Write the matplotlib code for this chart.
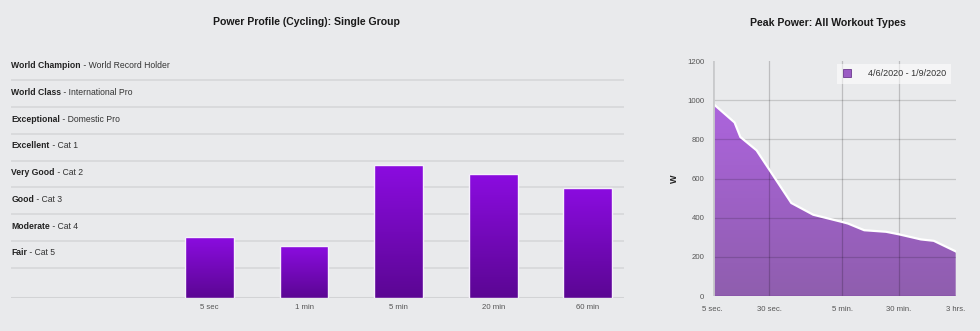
import numpy as np
import matplotlib
matplotlib.use('Agg')
import matplotlib.pyplot as plt
import matplotlib.patches as patches
from matplotlib.colors import LinearSegmentedColormap

plt.rcParams['font.family'] = ['Liberation Sans', 'DejaVu Sans']

# power profile bars (level score, 1 band = 1 unit)
durations = ['5 sec', '1 min', '5 min', '20 min', '60 min']
scores = [2.27, 1.93, 4.94, 4.60, 4.09]

levels = ['Fair', 'Moderate', 'Good', 'Very Good', 'Excellent',
          'Exceptional', 'World Class', 'World Champion']
level_desc = ['Cat 5', 'Cat 4', 'Cat 3', 'Cat 2', 'Cat 1',
              'Domestic Pro', 'International Pro', 'World Record Holder']
band_floor = 1.12  # bottom of the "Fair" band

# peak power curve
peak_secs = [5, 10, 12, 20, 60, 120, 300, 360, 600, 1200, 1800, 3600, 5400, 10800]
peak_watts = [984, 886, 812, 744, 475, 415, 378, 370, 336, 328, 315, 289, 282, 228]
peak_ticks = [5, 30, 300, 1800, 10800]
peak_tick_labels = ['5 sec.', '30 sec.', '5 min.', '30 min.', '3 hrs.']
legend_label = '4/6/2020 - 1/9/2020'

bg = '#e9eaec'
fig = plt.figure(figsize=(9.8, 3.31), dpi=100, facecolor=bg)

# ---------- left: power profile ----------
ax = fig.add_axes([0.0116, 0.1012, 0.6251, 0.7387], facecolor=bg)
top = band_floor + len(levels) + 0.02
ax.set_xlim(-2.094, 4.383)
ax.set_ylim(0, top)

for i in range(len(levels)):
    ax.axhline(band_floor + i, color='#d6d7d9', lw=1.2, zorder=1)
ax.axhline(0, color='#d2d3d5', lw=1.5, zorder=1)

bar_cmap = LinearSegmentedColormap.from_list('bar', ['#5b0693', '#8b0ce0'])
grad = np.linspace(0, 1, 256).reshape(-1, 1)
bw = 0.518
for i, s in enumerate(scores):
    rect = patches.Rectangle((i - bw / 2, 0), bw, s, facecolor='none',
                             edgecolor='#f6f0fb', lw=1.0, zorder=4)
    ax.add_patch(rect)
    im = ax.imshow(grad, cmap=bar_cmap, origin='lower', aspect='auto',
                   extent=(i - bw / 2, i + bw / 2, 0, s), zorder=3)
    im.set_clip_path(rect)
ax.set_xlim(-2.094, 4.383)
ax.set_ylim(0, top)

for i, (lv, desc) in enumerate(zip(levels, level_desc)):
    yc = band_floor + i + 0.55
    t = ax.text(0, yc, lv, transform=ax.get_yaxis_transform(), ha='left',
                va='center', fontsize=6.2, fontweight='bold', color='#222222')
    ax.annotate(' - ' + desc, xy=(1, 0), xycoords=t, ha='left', va='bottom',
                fontsize=6.2, color='#333333')

ax.set_xticks(range(len(durations)))
ax.set_xticklabels(durations, fontsize=5.6, color='#555555')
ax.tick_params(axis='x', length=0, pad=5)
ax.set_yticks([])
for sp in ax.spines.values():
    sp.set_visible(False)

fig.text(0.3125, 0.933, 'Power Profile (Cycling): Single Group', ha='center',
         va='center', fontsize=7.6, fontweight='bold', color='#1a1a1a')

# ---------- right: peak power ----------
ax2 = fig.add_axes([0.7272, 0.1057, 0.248, 0.71], facecolor=bg)
ax2.set_xscale('log')
ax2.set_xlim(5, 10800)
ax2.set_ylim(0, 1200)

x = np.array(peak_secs, dtype=float)
y = np.array(peak_watts, dtype=float)

# gradient area under the curve
area_cmap = LinearSegmentedColormap.from_list('area', ['#8f5eae', '#ad64de'])
verts = np.vstack([np.column_stack([x, y]), [[x[-1], 0], [x[0], 0]]])
clip = patches.Polygon(verts, closed=True, transform=ax2.transData,
                       facecolor='none', edgecolor='none')
ax2.add_patch(clip)
ax2.imshow(grad, cmap=area_cmap, origin='lower', aspect='auto',
           extent=(5, 10800, 0, 1000), zorder=2).set_clip_path(clip)
ax2.set_xlim(5, 10800)
ax2.set_ylim(0, 1200)
ax2.plot(x, y, color='white', lw=1.6, zorder=4, solid_joinstyle='round')
ax2.plot([x[0], x[-1]], [0, 0], color='#7a3f9c', lw=1.0, zorder=4)

for v in [200, 400, 600, 800, 1000]:
    ax2.axhline(v, color='black', alpha=0.15, lw=0.9, zorder=3)
for v in [30, 300, 1800]:
    ax2.axvline(v, color='black', alpha=0.19, lw=0.9, zorder=3)
ax2.axvline(5, color='#c9cacc', lw=2.0, zorder=5)

ax2.set_yticks([0, 200, 400, 600, 800, 1000, 1200])
ax2.set_yticklabels(['0', '200', '400', '600', '800', '1000', '1200'],
                    fontsize=5.6, color='#555555')
ax2.set_xticks(peak_ticks)
ax2.set_xticklabels(peak_tick_labels, fontsize=5.6, color='#555555')
ax2.minorticks_off()
ax2.tick_params(axis='y', length=0, pad=6)
ax2.tick_params(axis='x', length=0, pad=7)
for sp in ax2.spines.values():
    sp.set_visible(False)
ax2.set_ylabel('W', fontsize=6.5, fontweight='bold', color='#222222', labelpad=6)

handle = patches.Patch(facecolor='#9b5cc4', edgecolor='#6b3a8e', lw=0.6)
leg = ax2.legend([handle], [legend_label], loc='upper right',
                 bbox_to_anchor=(0.982, 0.988), fontsize=6.5, frameon=True,
                 handlelength=0.9, handleheight=0.9, handletextpad=1.9,
                 borderpad=0.6, borderaxespad=0, fancybox=False)
leg.get_frame().set_facecolor('white')
leg.get_frame().set_alpha(0.55)
leg.get_frame().set_edgecolor('none')
for txt in leg.get_texts():
    txt.set_color('#333333')

fig.text(0.8447, 0.93, 'Peak Power: All Workout Types', ha='center',
         va='center', fontsize=7.6, fontweight='bold', color='#1a1a1a')

fig.savefig('out.png', dpi=100, facecolor=bg)
